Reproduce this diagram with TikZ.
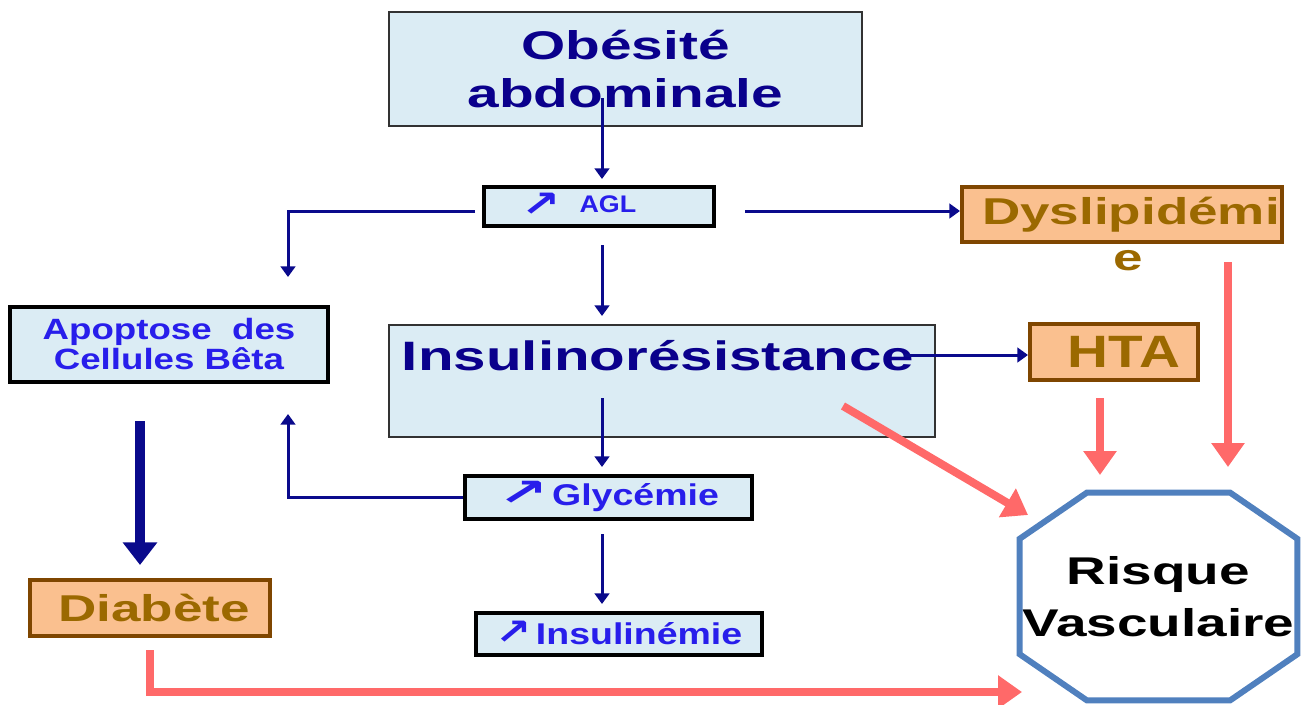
\documentclass[tikz,border=0pt]{standalone}
\usepackage{fontspec}
\usetikzlibrary{arrows.meta}
\setmainfont{Liberation Sans}
\newfontfamily\fsA[FakeStretch=1.42]{Liberation Sans}
\newfontfamily\fsB[FakeStretch=1.25]{Liberation Sans}
\newfontfamily\fsC[FakeStretch=1.12]{Liberation Sans}
\newfontfamily\fsD{Liberation Sans}
\newfontfamily\arr{DejaVu Sans}
\newcommand{\upar}[2]{\smash{\scalebox{#1}[1]{\arr\bfseries\fontsize{#2}{#2}\selectfont ↗}}}
\definecolor{navytext}{RGB}{10,0,140}
\definecolor{bluetext}{RGB}{40,30,235}
\definecolor{navline}{RGB}{10,10,140}
\definecolor{lightfill}{RGB}{219,236,244}
\definecolor{orfill}{RGB}{250,192,143}
\definecolor{orborder}{RGB}{127,70,0}
\definecolor{ortext}{RGB}{155,105,0}
\definecolor{pinkline}{RGB}{255,105,105}
\definecolor{octoline}{RGB}{80,128,190}
\definecolor{boxgray}{RGB}{50,50,50}
\begin{document}
\begin{tikzpicture}[x=0.75pt,y=-0.75pt,
  bigbox/.style={draw=boxgray, line width=1.5pt, fill=lightfill, inner sep=0pt, text=navytext},
  smallbox/.style={draw=black, line width=3pt, fill=lightfill, inner sep=0pt, text=bluetext},
  orbox/.style={draw=orborder, line width=3pt, fill=orfill, inner sep=0pt, text=ortext},
  nav/.style={draw=navline, line width=2.25pt, -{Triangle[width=11pt,length=8pt]}},
  bignav/.style={draw=navline, line width=8pt, -{Triangle[width=25pt,length=17pt]}},
  pk/.style={draw=pinkline, line width=6pt, -{Triangle[width=24pt,length=18pt]}},
  octo/.style={draw=octoline, line width=4.5pt, line join=miter}
]
\useasboundingbox (0,0) rectangle (1304,704);

% boxes
\node[bigbox, minimum width=354.75pt, minimum height=85.5pt, align=center,
      font=\fsA\bfseries\fontsize{30}{36}\selectfont] (obesite) at (625.5,69) {Obésité\\abdominale};
\node[smallbox, minimum width=172.5pt, minimum height=29.25pt,
      font=\fsC\bfseries\fontsize{18}{21}\selectfont] (agl) at (599,206.5) {\raisebox{-3pt}{\upar{1.3}{27}}\hspace{14pt}AGL\kern30pt};
\node[bigbox, minimum width=409.5pt, text height=34pt, text depth=50pt,
      font=\fsA\bfseries\fontsize{30.8}{36}\selectfont] (insulino) at (662,381) {Insulinorésistance\kern6pt};
\node[smallbox, minimum width=215.25pt, minimum height=32.25pt,
      font=\fsB\bfseries\fontsize{22.5}{26}\selectfont] (glyc) at (608.5,497.5) {\upar{1.6}{28}\hspace{3pt}Glycémie};
\node[smallbox, minimum width=214.5pt, minimum height=31.5pt,
      font=\fsB\bfseries\fontsize{22.5}{26}\selectfont] (insulinemie) at (619,634) {\upar{1.2}{27}\hspace{3pt}Insulinémie};
\node[smallbox, minimum width=238.5pt, minimum height=56.25pt, align=center,
      font=\fsB\bfseries\fontsize{22}{22.5}\selectfont] (apoptose) at (169,344.5) {Apoptose\ \ des\\Cellules Bêta};
\node[orbox, minimum width=180pt, minimum height=42pt,
      font=\fsA\bfseries\fontsize{28}{32}\selectfont] (diabete) at (150,608) {\hspace{6pt}Diabète};
\node[orbox, minimum width=240pt, minimum height=41.25pt,
      font=\fsA\bfseries\fontsize{28}{32}\selectfont] (dys) at (1122,214.5) {\hspace{13.5pt}Dyslipidémi};
\node[anchor=base, inner sep=0pt, text=ortext,
      font=\fsA\bfseries\fontsize{28}{32}\selectfont] (dyse) at (1128,270) {e};
\node[orbox, minimum width=126pt, minimum height=42pt,
      font=\fsB\bfseries\fontsize{34}{38}\selectfont] (hta) at (1114,352) {\hspace{15pt}HTA};

% octagon
\node[minimum width=207.75pt, minimum height=155.25pt, inner sep=0pt, align=center,
      font=\fsA\bfseries\fontsize{29}{39}\selectfont] (risk) at (1158.5,596.5) {Risque\\Vasculaire};
\draw[octo] ([xshift=50.25pt]risk.north west) -- ([xshift=-50.25pt]risk.north east)
  -- ([yshift=-34.5pt]risk.north east) -- ([yshift=34.5pt]risk.south east)
  -- ([xshift=-50.25pt]risk.south east) -- ([xshift=50.25pt]risk.south west)
  -- ([yshift=34.5pt]risk.south west) -- ([yshift=-34.5pt]risk.north west) -- cycle;

% coordinates for free ends
\coordinate (o1) at (602,98);
\coordinate (al) at (475,211);
\coordinate (l1) at (288,277);
\coordinate (ar) at (745,211);
\coordinate (ad1) at (602,245);
\coordinate (ad2) at (602,316);
\coordinate (ih) at (905,355);
\coordinate (id1) at (602,398);
\coordinate (id2) at (602,467);
\coordinate (g2) at (288,414);
\coordinate (gd1) at (602,534);
\coordinate (gd2) at (602,604);
\coordinate (b1) at (140,421);
\coordinate (b2) at (140,565);
\coordinate (p1) at (843,406);
\coordinate (p2) at (1028,515);
\coordinate (h1) at (1100,398);
\coordinate (h2) at (1100,475);
\coordinate (d1) at (1228,262);
\coordinate (d2) at (1228,467);
\coordinate (dl) at (1022,692);

% navy connectors
\draw[nav, shorten >=4.5pt] (o1) -- (o1 |- agl.north);
\draw[nav] (al) -| (l1);
\draw[nav] (ar) -- (ar -| dys.west);
\draw[nav] (ad1) -- (ad2);
\draw[nav] (ih) -- (ih -| hta.west);
\draw[nav] (id1) -- (id2);
\draw[nav] (glyc.west) -| (g2);
\draw[nav] (gd1) -- (gd2);
\draw[bignav] (b1) -- (b2);

% pink connectors
\draw[pk] (p1) -- (p2);
\draw[pk] (h1) -- (h2);
\draw[pk] (d1) -- (d2);
\draw[pk] ([yshift=-9pt]diabete.south) |- (dl);
\end{tikzpicture}
\end{document}
